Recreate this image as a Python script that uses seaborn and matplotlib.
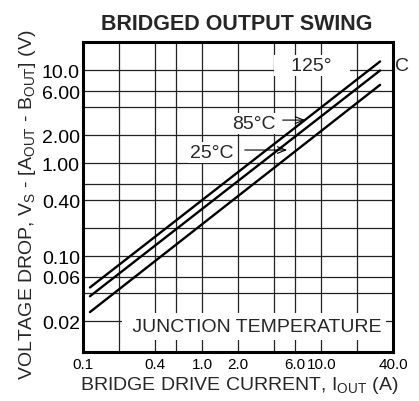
import numpy as np
import pandas as pd
import seaborn as sns
import matplotlib.pyplot as plt
from matplotlib import ticker


### Values (drive current in A, voltage drop in V)
current = [0.115, 31.0]
v_125 = [0.046, 12.5]
v_85 = [0.037, 10.0]
v_25 = [0.025, 7.0]
temps = ['125°C', '85°C', '25°C']

x_major = [0.1, 0.4, 1.0, 2.0, 6.0, 10.0, 40.0]
x_labels = ['0.1', '0.4', '1.0', '2.0', '6.0', '10.0', '40.0']
x_minor = [0.2, 0.6, 4.0, 20.0]
y_major = [0.02, 0.06, 0.1, 0.4, 1.0, 2.0, 6.0, 10.0]
y_labels = ['0.02', '0.06', '0.10', '0.40', '1.00', '2.00', '6.00', '10.0']
y_minor = [0.04, 0.2, 0.6, 4.0]

df = pd.DataFrame({
    'current': current * 3,
    'voltage': v_125 + v_85 + v_25,
    'temp': np.repeat(temps, len(current)),
})


### Style
sns.set_theme(style='white')
plt.rcParams['font.family'] = ['Liberation Sans', 'DejaVu Sans']
fs = 14

fig = plt.figure(figsize=(4.19, 4.02), dpi=100)
ax = fig.add_axes([0.1974, 0.1231, 0.7413, 0.7687])

sns.lineplot(data=df, x='current', y='voltage', hue='temp',
             palette=['black'] * 3, legend=False, linewidth=1.7,
             ax=ax, zorder=4)

ax.set_xscale('log')
ax.set_yscale('log')
ax.set_xlim(0.1, 40)
ax.set_ylim(0.0094, 20)

ax.set_xticks(x_major, x_labels)
ax.set_yticks(y_major, y_labels)
ax.xaxis.set_minor_locator(ticker.FixedLocator(x_minor))
ax.yaxis.set_minor_locator(ticker.FixedLocator(y_minor))
ax.xaxis.set_minor_formatter(ticker.NullFormatter())
ax.yaxis.set_minor_formatter(ticker.NullFormatter())
ax.tick_params(which='both', length=0, colors='black')
ax.tick_params(axis='x', pad=4, labelsize=11)
ax.tick_params(axis='y', pad=2, labelsize=fs)

ax.grid(which='both', color='#222222', linewidth=0.9)
ax.set_axisbelow(True)
for s in ax.spines.values():
    s.set_visible(True)
    s.set_color('black')
    s.set_linewidth(2.2)

ax.set_xlabel('')
ax.set_ylabel('')


### Annotations
box = dict(facecolor='white', edgecolor='none', boxstyle='square,pad=0.1')

ax.text(8.3, 10.07, '   125°   ', ha='center', va='baseline', fontsize=fs,
        bbox=box, zorder=3)
ax.text(41.3, 10.07, 'C', ha='left', va='baseline', fontsize=fs, clip_on=False)

ax.text(2.72, 2.42, '85°C', ha='center', va='baseline', fontsize=fs,
        bbox=box, zorder=3)
ax.annotate('', xy=(7.7, 2.92), xytext=(4.49, 2.92),
            arrowprops=dict(arrowstyle='->,head_length=0.5,head_width=0.2',
                            color='black', lw=0.8), zorder=3)

ax.text(1.21, 1.18, '25°C', ha='center', va='baseline', fontsize=fs,
        bbox=box, zorder=3)
ax.annotate('', xy=(5.45, 1.39), xytext=(2.16, 1.39),
            arrowprops=dict(arrowstyle='->,head_length=0.5,head_width=0.2',
                            color='black', lw=0.8), zorder=3)

ax.text(31.9, 0.0156, ' JUNCTION TEMPERATURE', ha='right', va='baseline',
        fontsize=fs, bbox=dict(facecolor='white', edgecolor='none',
                               boxstyle='square,pad=0.25'), zorder=3)


### Titles
fig.text(0.5656, 0.9254, 'BRIDGED OUTPUT SWING', ha='center', va='baseline',
         fontsize=15.5, fontweight='bold')
fig.text(0.5716, 0.030, r'BRIDGE DRIVE CURRENT, I$_\mathregular{OUT}$ (A)',
         ha='center', va='baseline', fontsize=fs)
fig.text(0.0757, 0.49,
         r'VOLTAGE DROP, V$_\mathregular{S}$ - [A$_\mathregular{OUT}$ - B$_\mathregular{OUT}$] (V)',
         ha='center', va='baseline', rotation=90, rotation_mode='anchor',
         fontsize=fs)

fig.savefig('out.png', dpi=100)
